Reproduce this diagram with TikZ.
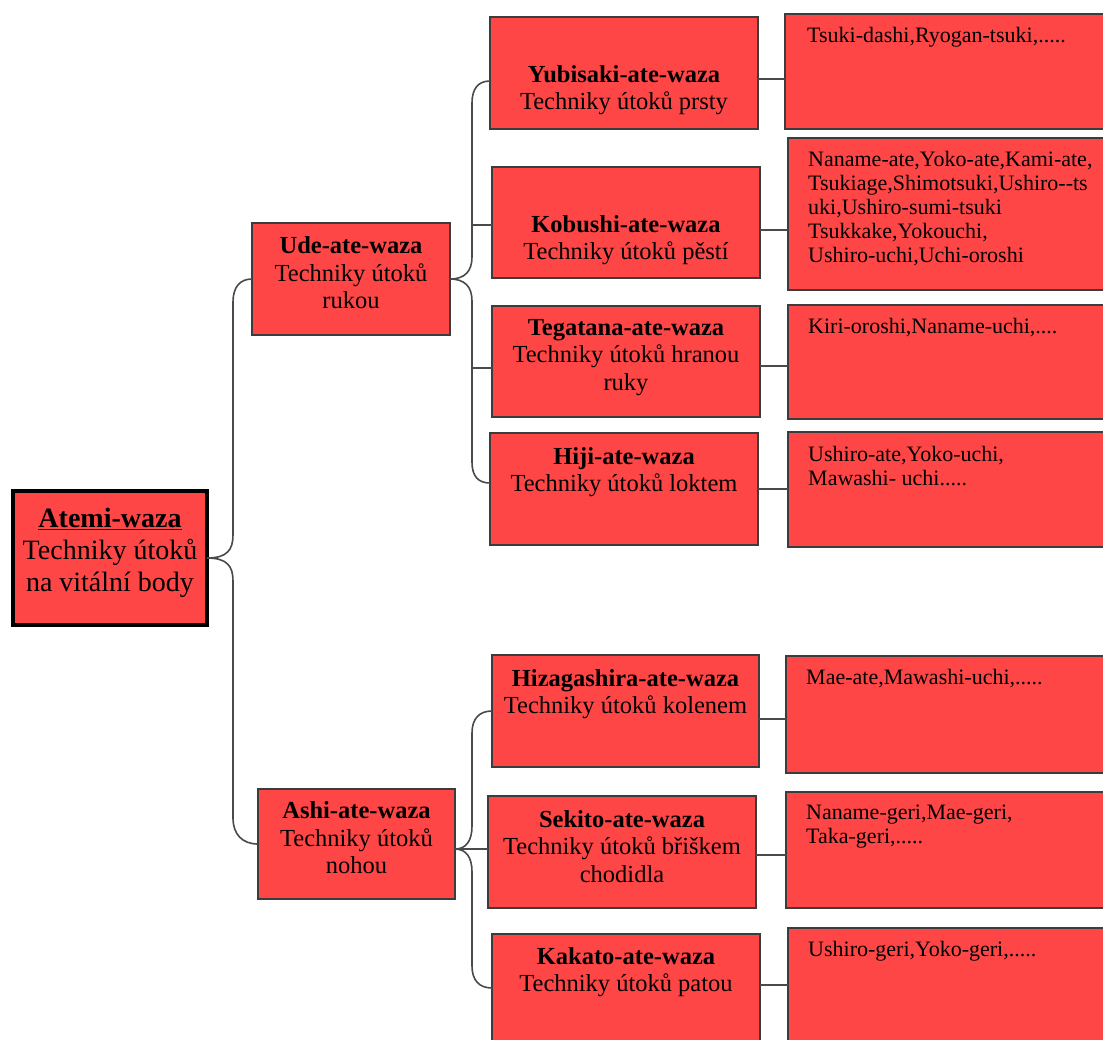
\documentclass[tikz,border=0pt]{standalone}
\usepackage{fontspec}
\setmainfont{Liberation Serif}
\definecolor{boxred}{HTML}{FF4646}
\definecolor{edgegray}{HTML}{3C3C3C}
\definecolor{conngray}{HTML}{4A4A4A}
\begin{document}
\begin{tikzpicture}[x=1pt,y=-1pt,
  box/.style={draw=edgegray, fill=boxred, line width=1.5pt, inner sep=0pt, outer sep=0pt, anchor=north west},
  rootbox/.style={box, draw=black, line width=3.5pt},
  midtxt/.style={font=\fontsize{24.5}{27.5}\selectfont, align=center, inner sep=0pt, anchor=north},
  roottxt/.style={font=\fontsize{28}{32}\selectfont, align=center, inner sep=0pt, anchor=north},
  rtxt/.style={font=\fontsize{22}{24}\selectfont, align=left, inner sep=0pt, anchor=north west},
  conn/.style={draw=conngray, line width=1.6pt}]
\useasboundingbox[fill=white] (0,0) rectangle (1103,1039);

% level 0
\node[rootbox, minimum width=194pt, minimum height=134pt] (root) at (13,491) {};
\node[roottxt] (rootT) at ([yshift=-17pt]root.north) {\textbf{\underline{Atemi-waza}}\\Techniky útoků\\na vitální body};

% level 1
\node[box, minimum width=198pt, minimum height=112pt] (ude) at (252,223) {};
\node[midtxt] (udeT) at ([yshift=-13.5pt]ude.north) {\textbf{Ude-ate-waza}\\Techniky útoků\\rukou};
\node[box, minimum width=197pt, minimum height=110pt] (ashi) at (258,789) {};
\node[midtxt] (ashiT) at ([yshift=-12.5pt]ashi.north) {\textbf{Ashi-ate-waza}\\Techniky útoků\\nohou};

% level 2
\node[box, minimum width=268pt, minimum height=112pt] (yub) at (490,17) {};
\node[midtxt] (yubT) at ([yshift=-48pt]yub.north) {\textbf{Yubisaki-ate-waza}\\Techniky útoků prsty};
\node[box, minimum width=268pt, minimum height=111pt] (kob) at (492,167) {};
\node[midtxt] (kobT) at ([yshift=-48pt]kob.north) {\textbf{Kobushi-ate-waza}\\Techniky útoků pěstí};
\node[box, minimum width=268pt, minimum height=111pt] (teg) at (492,306) {};
\node[midtxt] (tegT) at ([yshift=-13pt]teg.north) {\textbf{Tegatana-ate-waza}\\Techniky útoků hranou\\ruky};
\node[box, minimum width=268pt, minimum height=112pt] (hiji) at (490,433) {};
\node[midtxt] (hijiT) at ([yshift=-14pt]hiji.north) {\textbf{Hiji-ate-waza}\\Techniky útoků loktem};
\node[box, minimum width=267pt, minimum height=112pt] (hiz) at (492,655) {};
\node[midtxt] (hizT) at ([yshift=-14pt]hiz.north) {\textbf{Hizagashira-ate-waza}\\Techniky útoků kolenem};
\node[box, minimum width=268pt, minimum height=112pt] (sek) at (488,796) {};
\node[midtxt] (sekT) at ([yshift=-14pt]sek.north) {\textbf{Sekito-ate-waza}\\Techniky útoků břiškem\\chodidla};
\node[box, minimum width=268pt, minimum height=130pt] (kak) at (492,934) {};
\node[midtxt] (kakT) at ([yshift=-13pt]kak.north) {\textbf{Kakato-ate-waza}\\Techniky útoků patou};

% level 3
\node[box, minimum width=330pt, minimum height=115pt] (r1) at (785,14) {};
\node[rtxt] (r1T) at ([xshift=22pt,yshift=-13pt]r1.north west) {Tsuki-dashi,Ryogan-tsuki,.....};
\node[box, minimum width=330pt, minimum height=152pt] (r2) at (788,138) {};
\node[rtxt] (r2T) at ([xshift=20pt,yshift=-13pt]r2.north west) {Naname-ate,Yoko-ate,Kami-ate,\\Tsukiage,Shimotsuki,Ushiro-{}-ts\\uki,Ushiro-sumi-tsuki\\Tsukkake,Yokouchi,\\Ushiro-uchi,Uchi-oroshi};
\node[box, minimum width=330pt, minimum height=114pt] (r3) at (788,305) {};
\node[rtxt] (r3T) at ([xshift=20pt,yshift=-13pt]r3.north west) {Kiri-oroshi,Naname-uchi,....};
\node[box, minimum width=330pt, minimum height=115pt] (r4) at (788,432) {};
\node[rtxt] (r4T) at ([xshift=20pt,yshift=-14pt]r4.north west) {Ushiro-ate,Yoko-uchi,\\Mawashi- uchi.....};
\node[box, minimum width=330pt, minimum height=117pt] (r5) at (786,656) {};
\node[rtxt] (r5T) at ([xshift=20pt,yshift=-13pt]r5.north west) {Mae-ate,Mawashi-uchi,.....};
\node[box, minimum width=330pt, minimum height=116pt] (r6) at (786,792) {};
\node[rtxt] (r6T) at ([xshift=20pt,yshift=-13pt]r6.north west) {Naname-geri,Mae-geri,\\Taka-geri,.....};
\node[box, minimum width=330pt, minimum height=130pt] (r7) at (788,928) {};
\node[rtxt] (r7T) at ([xshift=20pt,yshift=-13pt]r7.north west) {Ushiro-geri,Yoko-geri,.....};

% connectors: root brace
\draw[conn] (root.east) .. controls (227,558) and (233,550) .. (233,535) -- (233,302) .. controls (233,287) and (240,279) .. (ude.west);
\draw[conn] (root.east) .. controls (227,558) and (233,566) .. (233,581) -- (233,818) .. controls (233,834) and (242,844) .. (ashi.west);

% Ude brace
\draw[conn] (ude.east) .. controls (465,279) and (472,271) .. (472,257) -- (472,103) .. controls (472,89) and (478,81) .. (yub.west |- 0,81);
\draw[conn] (ude.east) .. controls (465,279) and (472,287) .. (472,301) -- (472,462) .. controls (472,476) and (478,483) .. (hiji.west |- 0,483);
\draw[conn] (kob.west |- 0,225) -- (472,225);
\draw[conn] (teg.west |- 0,368) -- (472,368);

% Ashi brace
\draw[conn] (ashi.east |- 0,849) .. controls (466,849) and (472,841) .. (472,826) -- (472,733) .. controls (472,719) and (479,711) .. (hiz.west |- 0,711);
\draw[conn] (ashi.east |- 0,849) .. controls (466,849) and (472,857) .. (472,872) -- (472,966) .. controls (472,980) and (479,988) .. (kak.west |- 0,988);
\draw[conn] (ashi.east |- 0,849) -- (sek.west |- 0,849);

% to detail boxes
\draw[conn] (yub.east |- 0,79) -- (r1.west |- 0,79);
\draw[conn] (kob.east |- 0,230) -- (r2.west |- 0,230);
\draw[conn] (teg.east |- 0,366) -- (r3.west |- 0,366);
\draw[conn] (hiji.east |- 0,489) -- (r4.west |- 0,489);
\draw[conn] (hiz.east |- 0,719) -- (r5.west |- 0,719);
\draw[conn] (sek.east |- 0,855) -- (r6.west |- 0,855);
\draw[conn] (kak.east |- 0,985) -- (r7.west |- 0,985);
\end{tikzpicture}
\end{document}
